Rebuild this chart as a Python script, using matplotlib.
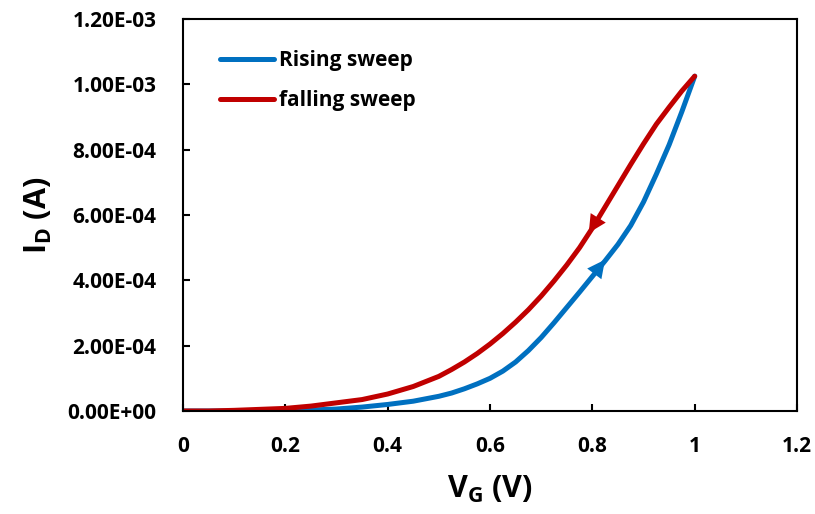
import matplotlib.pyplot as plt
import matplotlib as mpl

# gate voltage (V) and drain current (A)
vg = [0.0, 0.05, 0.1, 0.15, 0.2, 0.25, 0.3, 0.35, 0.4, 0.45, 0.5,
      0.525, 0.55, 0.575, 0.6, 0.625, 0.65, 0.675, 0.7, 0.725, 0.75,
      0.775, 0.8, 0.825, 0.85, 0.875, 0.9, 0.925, 0.95, 0.975, 1.0]
id_rise = [0.0, 0.0, 0.0, 0.0, 0.01e-4, 0.03e-4, 0.06e-4, 0.12e-4, 0.2e-4, 0.3e-4, 0.45e-4,
           0.55e-4, 0.68e-4, 0.83e-4, 1.0e-4, 1.22e-4, 1.5e-4, 1.85e-4, 2.25e-4, 2.7e-4, 3.17e-4,
           3.64e-4, 4.12e-4, 4.6e-4, 5.1e-4, 5.68e-4, 6.4e-4, 7.25e-4, 8.15e-4, 9.17e-4, 10.25e-4]
id_fall = [0.0, 0.0, 0.02e-4, 0.05e-4, 0.08e-4, 0.15e-4, 0.25e-4, 0.35e-4, 0.52e-4, 0.75e-4, 1.06e-4,
           1.27e-4, 1.5e-4, 1.76e-4, 2.05e-4, 2.37e-4, 2.72e-4, 3.1e-4, 3.52e-4, 3.98e-4, 4.47e-4,
           5.0e-4, 5.6e-4, 6.25e-4, 6.9e-4, 7.55e-4, 8.18e-4, 8.78e-4, 9.3e-4, 9.8e-4, 10.25e-4]

xticks = [0, 0.2, 0.4, 0.6, 0.8, 1.0, 1.2]
xtick_labels = ['0', '0.2', '0.4', '0.6', '0.8', '1', '1.2']
yticks = [0, 2e-4, 4e-4, 6e-4, 8e-4, 10e-4, 12e-4]
ytick_labels = ['0.00E+00', '2.00E-04', '4.00E-04', '6.00E-04', '8.00E-04', '1.00E-03', '1.20E-03']

BLUE = '#0070C0'
RED = '#C00000'

mpl.rcParams['font.family'] = ['Open Sans', 'DejaVu Sans']
mpl.rcParams['font.weight'] = 'bold'
mpl.rcParams['mathtext.default'] = 'bf'
mpl.rcParams['mathtext.fontset'] = 'custom'
mpl.rcParams['mathtext.bf'] = 'Open Sans:bold'

fig = plt.figure(figsize=(8.15, 5.14), dpi=100)
ax = fig.add_axes([0.2245, 0.2004, 0.7535, 0.7626])

ax.plot(vg, id_rise, color=BLUE, lw=3.6, solid_capstyle='round', solid_joinstyle='round',
        label='Rising sweep')
ax.plot(vg, id_fall, color=RED, lw=3.6, solid_capstyle='round', solid_joinstyle='round',
        label='falling sweep')

# direction arrows on the curves
ax.annotate('', xy=(0.828, 4.7e-4), xytext=(0.8, 4.12e-4),
            arrowprops=dict(arrowstyle='-|>', color=BLUE, lw=0, mutation_scale=32))
ax.annotate('', xy=(0.79, 5.38e-4), xytext=(0.825, 6.25e-4),
            arrowprops=dict(arrowstyle='-|>', color=RED, lw=0, mutation_scale=32))

ax.set_xlim(0, 1.2)
ax.set_ylim(0, 1.2e-3)
ax.set_xticks(xticks)
ax.set_xticklabels(xtick_labels)
ax.set_yticks(yticks)
ax.set_yticklabels(ytick_labels)
ax.tick_params(direction='in', length=5, width=1.5, labelsize=15)
ax.tick_params(axis='y', pad=19)
ax.tick_params(axis='x', pad=18)
for s in ax.spines.values():
    s.set_linewidth(1.5)

ax.set_xlabel('V$_\\mathbf{G}$ (V)', fontsize=22, fontweight='bold', labelpad=12)
ax.set_ylabel('I$_\\mathbf{D}$ (A)', fontsize=22, fontweight='bold', labelpad=10)

ax.legend(loc='upper left', bbox_to_anchor=(0.06, 0.92), frameon=False, fontsize=15,
          handlelength=2.6, handletextpad=0.25, labelspacing=0.9, borderaxespad=0, borderpad=0)

fig.savefig('out.png', dpi=100)
